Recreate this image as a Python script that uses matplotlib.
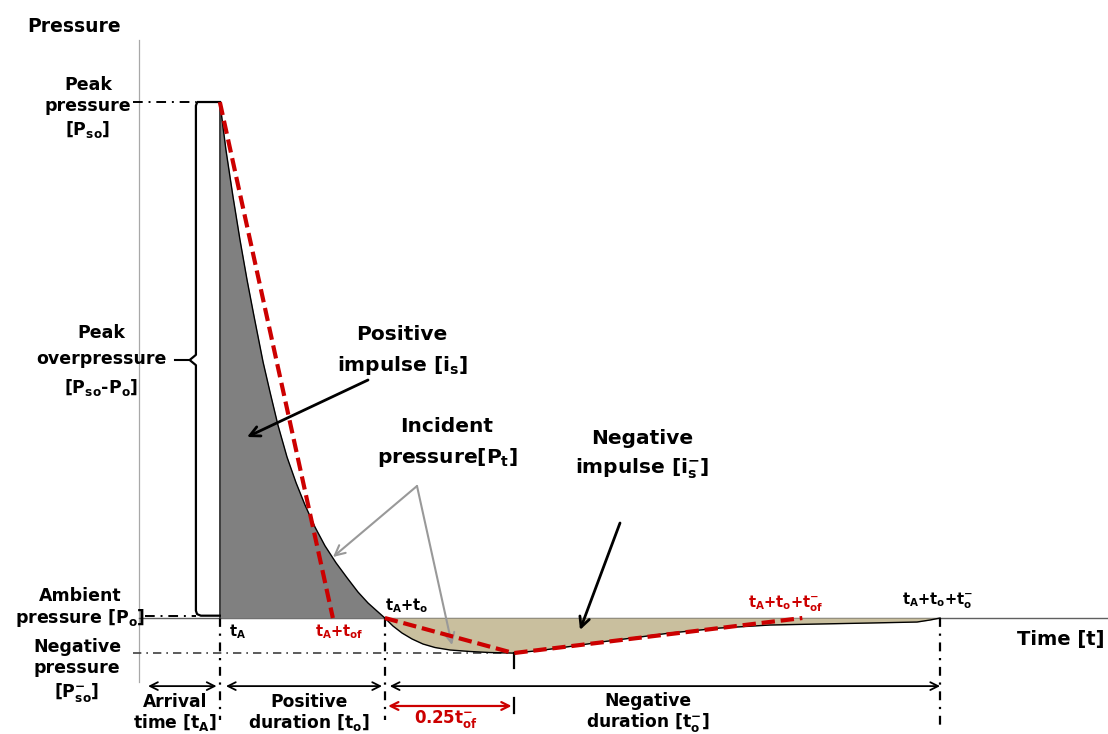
import matplotlib
matplotlib.use("Agg")
import matplotlib.pyplot as plt
from matplotlib.transforms import Affine2D

plt.rcParams['font.family'] = ['DejaVu Sans']
plt.rcParams['font.weight'] = 'bold'
plt.rcParams['mathtext.fontset'] = 'custom'
plt.rcParams['mathtext.rm'] = 'DejaVu Sans:bold'
plt.rcParams['mathtext.it'] = 'DejaVu Sans:bold'
plt.rcParams['mathtext.bf'] = 'DejaVu Sans:bold'
plt.rcParams['mathtext.default'] = 'rm'

# Blast wave time history: time in ms, overpressure in % of peak
t_arrival = 4.9         # tA
t_pos_dur = 10.0        # to
t_neg_dur = 33.65       # to-
t_pos_fic = 6.85        # tof (linear decay of the positive phase)
t_neg_min = 22.7        # time of minimum pressure
t_neg_fic_end = 40.2    # tA+to+tof-
p_peak = 100.0
p_neg = -6.8

# positive phase, shock front down to ambient
t_pos = [4.9, 5.27, 5.7, 6.12, 6.55, 6.97, 7.52, 7.94, 8.42, 8.97, 9.52, 10.06,
         10.67, 11.27, 11.94, 12.61, 13.27, 13.88, 14.42, 14.9]
p_pos = [100, 90.7, 81.6, 73.3, 65.5, 58.5, 49.6, 43.8, 37.4, 31.2, 26.2, 21.9,
         17.6, 14.0, 10.7, 7.8, 5.04, 2.91, 1.36, 0]

# negative (suction) phase
t_neg = [14.9, 15.39, 15.94, 16.55, 17.21, 17.94, 18.85, 20.06, 21.27, 22.7, 24.3,
         26.12, 28.24, 30.36, 32.18, 35.21, 38.24, 41.27, 44.3, 47.15, 47.94, 48.55]
p_neg_curve = [0, -1.55, -2.91, -4.07, -5.04, -5.72, -6.2, -6.49, -6.69, -6.8, -6.3,
               -5.52, -4.55, -3.68, -2.91, -1.94, -1.36, -1.16, -0.97, -0.78, -0.39, 0]

RED = '#cc0000'
W, H = 1108, 734
fig = plt.figure(figsize=(W / 100, H / 100), dpi=100)
ax = fig.add_axes([0, 0, 1, 1])
ax.set_xlim(-8.424, 58.727)
ax.set_ylim(-22.48, 119.77)
ax.axis('off')
# pixel coordinates from the top-left corner, used for labels and pointers
pix = Affine2D().scale(1 / W, -1 / H).translate(0, 1) + fig.transFigure

t_end = t_arrival + t_pos_dur
t_final = t_end + t_neg_dur

# axes
ax.plot([0, 0], [112, -12.4], color='#a8a8a8', lw=0.9, zorder=1)
ax.plot([0, 58.727], [0, 0], color='#606060', lw=1.0, zorder=1)

# impulse areas
ax.fill_between(t_pos, p_pos, 0, color='#808080', lw=0, zorder=2)
ax.plot(t_pos, p_pos, color='black', lw=1.0, zorder=3)
ax.plot([t_arrival, t_arrival], [0, p_peak], color='#303030', lw=1.3, zorder=3)
ax.fill_between(t_neg, p_neg_curve, 0, color='#c9bf9e', lw=0, zorder=2)
ax.plot(t_neg, p_neg_curve, color='black', lw=1.0, zorder=3)

# linearised (fictitious) pressure histories
ax.plot([t_arrival, t_arrival + t_pos_fic], [p_peak, 0], color=RED, lw=3,
        dashes=(3.2, 1.4), zorder=4)
ax.plot([t_end, t_neg_min, t_neg_fic_end], [0, p_neg, 0], color=RED, lw=3,
        dashes=(3.2, 1.4), zorder=4)

# brace marking the peak overpressure
bx = t_arrival - 1.45
p_mid = p_peak / 2
brace_t = [t_arrival, bx + 0.08, bx, bx, bx - 0.38, bx, bx, bx + 0.07, bx + 0.3, t_arrival]
brace_p = [p_peak, p_peak, p_peak - 0.7, p_mid + 1.0, p_mid, p_mid - 1.0, 1.4, 0.75, 0.45, 0.45]
ax.fill(brace_t, brace_p, color='white', zorder=2)
ax.plot(brace_t, brace_p, color='black', lw=1.6, zorder=3)
ax.plot([2.18, bx - 0.45], [p_mid, p_mid], color='black', lw=1.5)

# reference levels
dashdot = (0, (5, 3, 1, 3))
ax.plot([-0.36, bx], [p_peak, p_peak], color='black', lw=1.4, linestyle=dashdot)
ax.plot([0.36, bx], [0.4, 0.4], color='black', lw=1.4, linestyle=dashdot)
ax.plot([-0.36, t_neg_min], [p_neg, p_neg], color='#404040', lw=1.2, linestyle=dashdot)
for tv, bottom in [(t_arrival, -19.8), (t_end, -19.8), (t_final, -20.7)]:
    ax.plot([tv, tv], [0, bottom], color='black', lw=1.6, linestyle=(0, (4, 3, 1, 3)))
ax.plot([t_neg_min, t_neg_min], [p_neg, -9.7], color='black', lw=1.6)
ax.plot([t_neg_min, t_neg_min], [-15.5, -18.4], color='black', lw=1.6)

# durations
y_dur = -13.2
arrow = dict(arrowstyle='<->', color='black', lw=1.3, shrinkA=0, shrinkB=0, mutation_scale=14)
for a, b in [(0.55, t_arrival - 0.2), (t_arrival + 0.37, t_end - 0.17), (t_end + 0.3, t_final)]:
    ax.annotate('', xy=(b, y_dur), xytext=(a, y_dur), arrowprops=arrow)
ax.annotate('', xy=(t_neg_min - 0.12, -17.05), xytext=(t_end + 0.2, -17.05),
            arrowprops=dict(arrow, color=RED, lw=1.6))


def label(x, y, s, size=12.5, color='black', ha='center', ls=1.2):
    fig.text(x, y, s, transform=pix, ha=ha, va='center', fontsize=size,
             color=color, fontweight='bold', linespacing=ls, multialignment='center')


label(27, 27, 'Pressure', size=13.5, ha='left')
label(88, 108, 'Peak\npressure\n[P$_{so}$]', ls=1.2)
label(101, 361, 'Peak\noverpressure\n[P$_{so}$-P$_{o}$]', ls=1.58)
label(80, 608, 'Ambient\npressure [P$_{o}$]', ls=1.15)
label(77, 671, 'Negative\npressure\n[P$_{so}^{-}$]', ls=1.25)
label(175, 713, 'Arrival\ntime [t$_{A}$]', size=12.3, ls=1.1)
label(309, 713, 'Positive\nduration [t$_{o}$]', size=12.3, ls=1.1)
label(648, 713, 'Negative\nduration [t$_{o}^{-}$]', size=12.3, ls=1.1)
label(446, 719, '0.25t$_{of}^{-}$', size=12, color=RED)
label(402, 351, 'Positive\nimpulse [i$_{s}$]', size=14.5, ls=1.55)
label(447, 443, 'Incident\npressure[P$_{t}$]', size=14.5, ls=1.55)
label(642, 455, 'Negative\nimpulse [i$_{s}^{-}$]', size=14.5, ls=1.55)
label(1061, 640, 'Time [t]', size=14)
label(229, 632, 't$_{A}$', size=10.5, ha='left')
label(339, 632, 't$_{A}$+t$_{of}$', size=10.5, color=RED)
label(385, 606, 't$_{A}$+t$_{o}$', size=10.5, ha='left')
label(748, 604, 't$_{A}$+t$_{o}$+t$_{of}^{-}$', size=10.5, color=RED, ha='left')
label(902, 601, 't$_{A}$+t$_{o}$+t$_{o}^{-}$', size=10.5, ha='left')

# pointers
pointer = dict(arrowstyle='->', color='black', lw=2, shrinkA=0, shrinkB=0, mutation_scale=18)
ax.annotate('', xy=(247, 437), xytext=(368, 380), xycoords=pix, textcoords=pix, arrowprops=pointer)
ax.annotate('', xy=(580, 630), xytext=(620, 523), xycoords=pix, textcoords=pix, arrowprops=pointer)
grey = dict(pointer, color='#999999', lw=1.5)
ax.annotate('', xy=(333, 557), xytext=(417, 486), xycoords=pix, textcoords=pix, arrowprops=grey)
ax.annotate('', xy=(452, 645), xytext=(417, 486), xycoords=pix, textcoords=pix, arrowprops=grey)

fig.savefig('out.png', dpi=100)
